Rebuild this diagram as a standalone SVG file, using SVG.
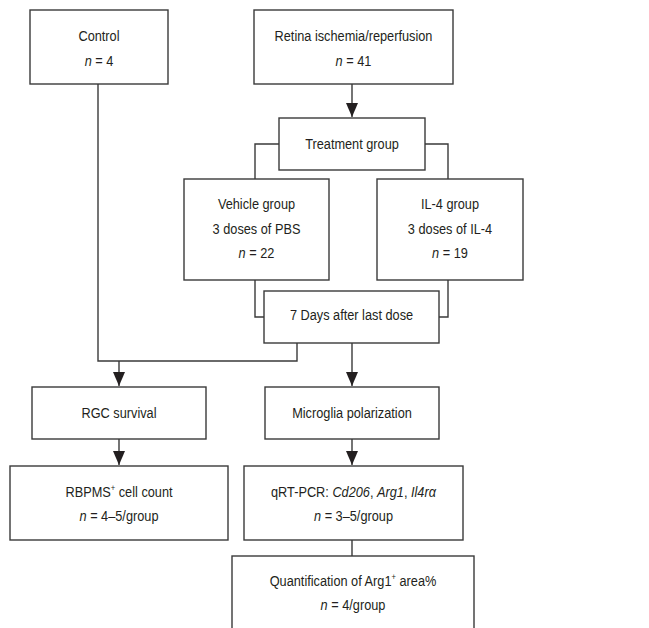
<svg xmlns="http://www.w3.org/2000/svg" width="649" height="628" viewBox="0 0 649 628">
<defs>
<style>
.box{fill:#fff;stroke:#3a3a3a;stroke-width:1.4}
.ln{fill:none;stroke:#3a3a3a;stroke-width:1.4}
text{font-family:"Liberation Sans",Arial,sans-serif;font-size:15px;fill:#231f20;text-anchor:middle}
.i{font-style:italic}
.sup{font-size:9px}
</style>
<marker id="arr" markerUnits="userSpaceOnUse" markerWidth="14" markerHeight="12" refX="14" refY="6" orient="auto" viewBox="0 0 14 12">
<path d="M0 0 L14 6 L0 12 Z" fill="#231f20"/>
</marker>
</defs>
<rect width="649" height="628" fill="#fff"/>
<g id="connectors">
<path class="ln" d="M297 343 V361 H98 V84"/>
<path class="ln" d="M119 361 V386" marker-end="url(#arr)"/>
<path class="ln" d="M352 84 V117" marker-end="url(#arr)"/>
<path class="ln" d="M279 144 H255 V179"/>
<path class="ln" d="M425 144 H448 V179"/>
<path class="ln" d="M255 280 V317 H264"/>
<path class="ln" d="M448 280 V317 H439"/>
<path class="ln" d="M352 343 V386" marker-end="url(#arr)"/>
<path class="ln" d="M119 439 V465" marker-end="url(#arr)"/>
<path class="ln" d="M352 439 V465" marker-end="url(#arr)"/>
<path class="ln" d="M352 540 V556"/>
</g>
<g id="control">
<rect class="box" x="30" y="10" width="138" height="74"/>
<g transform="translate(99 0) scale(0.85 1)">
<text x="0" y="41">Control</text>
<text x="0" y="66"><tspan class="i">n</tspan> = 4</text>
</g>
</g>
<g id="retina">
<rect class="box" x="254" y="10" width="199" height="74"/>
<g transform="translate(353.5 0) scale(0.85 1)">
<text x="0" y="41">Retina ischemia/reperfusion</text>
<text x="0" y="66"><tspan class="i">n</tspan> = 41</text>
</g>
</g>
<g id="treatment">
<rect class="box" x="279" y="118" width="146" height="52"/>
<g transform="translate(352 0) scale(0.85 1)">
<text x="0" y="149">Treatment group</text>
</g>
</g>
<g id="vehicle">
<rect class="box" x="184" y="179" width="145" height="101"/>
<g transform="translate(256.5 0) scale(0.85 1)">
<text x="0" y="209">Vehicle group</text>
<text x="0" y="234">3 doses of PBS</text>
<text x="0" y="258"><tspan class="i">n</tspan> = 22</text>
</g>
</g>
<g id="il4">
<rect class="box" x="377" y="179" width="146" height="101"/>
<g transform="translate(450 0) scale(0.85 1)">
<text x="0" y="209">IL-4 group</text>
<text x="0" y="234">3 doses of IL-4</text>
<text x="0" y="258"><tspan class="i">n</tspan> = 19</text>
</g>
</g>
<g id="sevendays">
<rect class="box" x="264" y="291" width="175" height="52"/>
<g transform="translate(351.5 0) scale(0.85 1)">
<text x="0" y="320">7 Days after last dose</text>
</g>
</g>
<g id="rgc">
<rect class="box" x="32" y="387" width="174" height="52"/>
<g transform="translate(119 0) scale(0.85 1)">
<text x="0" y="418">RGC survival</text>
</g>
</g>
<g id="microglia">
<rect class="box" x="265" y="387" width="174" height="52"/>
<g transform="translate(352 0) scale(0.85 1)">
<text x="0" y="418">Microglia polarization</text>
</g>
</g>
<g id="rbpms">
<rect class="box" x="10" y="466" width="218" height="74"/>
<g transform="translate(119 0) scale(0.85 1)">
<text x="0" y="497">RBPMS<tspan class="sup" dy="-6">+</tspan><tspan dy="6"> cell count</tspan></text>
<text x="0" y="521"><tspan class="i">n</tspan> = 4–5/group</text>
</g>
</g>
<g id="qrtpcr">
<rect class="box" x="244" y="466" width="219" height="74"/>
<g transform="translate(353.5 0) scale(0.85 1)">
<text x="0" y="497">qRT-PCR: <tspan class="i">Cd206</tspan>, <tspan class="i">Arg1</tspan>, <tspan class="i">Il4rα</tspan></text>
<text x="0" y="521"><tspan class="i">n</tspan> = 3–5/group</text>
</g>
</g>
<g id="quant">
<rect class="box" x="232" y="556" width="242" height="90"/>
<g transform="translate(353 0) scale(0.85 1)">
<text x="0" y="586">Quantification of Arg1<tspan class="sup" dy="-6">+</tspan><tspan dy="6"> area%</tspan></text>
<text x="0" y="610"><tspan class="i">n</tspan> = 4/group</text>
</g>
</g>
</svg>
